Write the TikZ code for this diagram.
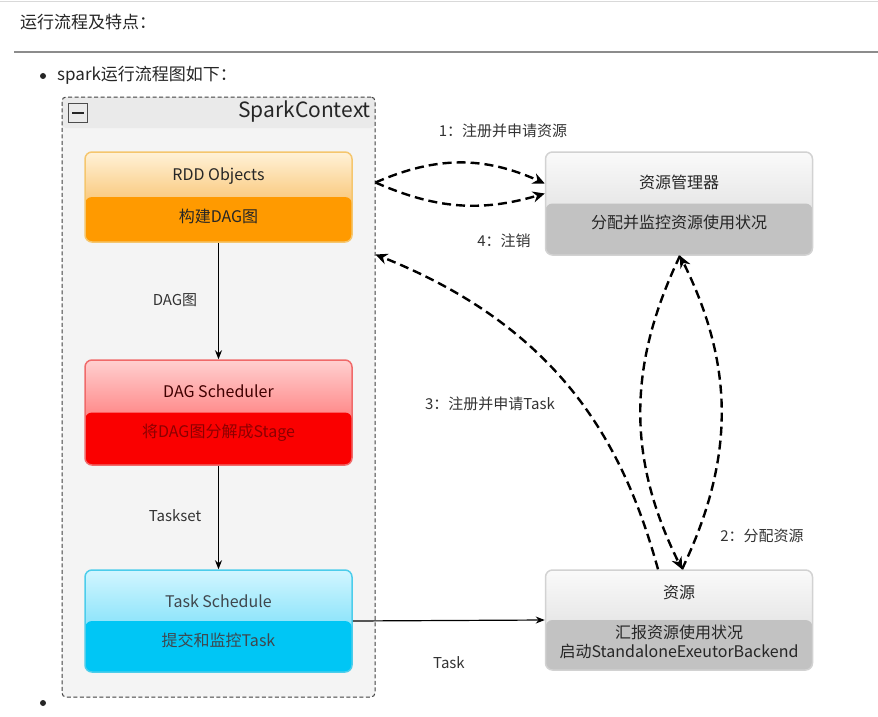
\documentclass[tikz,border=0pt]{standalone}
\usepackage{fontspec}
\setmainfont{Noto Sans CJK SC}
\usetikzlibrary{arrows.meta,calc}

\definecolor{scfill}{HTML}{F4F4F4}
\definecolor{scband}{HTML}{EAEAEA}
\definecolor{rddline}{HTML}{F5C66E}
\definecolor{rddtop}{HTML}{FFF2D8}
\definecolor{rddbot}{HTML}{F6A630}
\definecolor{rddlow}{HTML}{FF9A00}
\definecolor{dagline}{HTML}{F06A6A}
\definecolor{dagtop}{HTML}{FFD0D0}
\definecolor{dagbot}{HTML}{FF4A4A}
\definecolor{daglow}{HTML}{FA0000}
\definecolor{tskline}{HTML}{4CCDEB}
\definecolor{tsktop}{HTML}{D2F6FF}
\definecolor{tskbot}{HTML}{50D4F6}
\definecolor{tsklow}{HTML}{00C6F5}
\definecolor{resline}{HTML}{D2D2D2}
\definecolor{restop}{HTML}{FAFAFA}
\definecolor{resbot}{HTML}{D6D6D6}
\definecolor{reslow}{HTML}{C2C2C2}

\tikzset{
  box/.style={draw, rounded corners=7pt, line width=1.5pt, minimum width=267pt, inner sep=0pt},
  lower/.style={path picture={\fill[#1] (path picture bounding box.west) rectangle (path picture bounding box.south east);}},
  boxtext/.style={font=\fontsize{16}{19}\selectfont, text=black!85, align=center},
  lbl/.style={font=\fontsize{15}{18}\selectfont, text=black!80},
  dasharrow/.style={dash pattern=on 9pt off 5pt, line width=2.4pt, -{Stealth[length=12pt,width=11pt]}},
  flow/.style={line width=1.2pt, -{Stealth[length=9pt,width=7pt]}},
}

\begin{document}
\begin{tikzpicture}[x=1pt, y=-1pt]
  \useasboundingbox (0,0) rectangle (878,717);
  \fill[white] (0,0) rectangle (878,717);

  % page text
  \draw[black!15, line width=1.5pt] (0,1.5) -- (878,1.5);
  \node[anchor=west, inner sep=0pt, font=\fontsize{17}{20}\selectfont, text=black!85] (title) at (20,22) {运行流程及特点：};
  \draw[black!45, line width=1.5pt] (14,52) -- (878,52);
  \fill[black!85] (43,76) circle (3pt);
  \node[anchor=west, inner sep=0pt, font=\fontsize{17}{20}\selectfont, text=black!85] (intro) at (57,75) {spark运行流程图如下：};
  \fill[black!85] (43,703) circle (3pt);

  % SparkContext frame
  \node[draw=black!75, dash pattern=on 4pt off 2.5pt, line width=1pt, rounded corners=4pt, fill=scfill,
        minimum width=313pt, minimum height=600pt,
        path picture={\fill[scband] (path picture bounding box.north west) rectangle ([yshift=-31pt]path picture bounding box.north east);}]
        (sc) at (218.5,397) {};
  \node[draw=black!70, line width=1pt, minimum width=19pt, minimum height=19pt, inner sep=0pt] (minus) at (78,112.5) {};
  \draw[black!85, line width=2pt] ([xshift=-6pt]minus.center) -- ([xshift=6pt]minus.center);
  \node[anchor=east, inner sep=0pt, font=\fontsize{21}{24}\selectfont, text=black!85] (sctitle) at (371,112) {SparkContext};

  % boxes
  \node[box, draw=rddline, top color=rddtop, bottom color=rddbot, lower=rddlow, minimum height=90pt] (rdd) at (218.5,197) {};
  \node[boxtext] (rddt) at ($(rdd.north)!0.27!(rdd.south)$) {RDD Objects};
  \node[boxtext] (rddb) at ($(rdd.north)!0.71!(rdd.south)$) {构建DAG图};

  \node[box, draw=dagline, top color=dagtop, bottom color=dagbot, lower=daglow, minimum height=105pt] (dag) at (218.5,412.5) {};
  \node[boxtext, text=red!25!black] (dagt) at ($(dag.north)!0.30!(dag.south)$) {DAG Scheduler};
  \node[boxtext, text=red!55!black] (dagb) at ($(dag.north)!0.69!(dag.south)$) {将DAG图分解成Stage};

  \node[box, draw=tskline, top color=tsktop, bottom color=tskbot, lower=tsklow, minimum height=102pt] (task) at (218.5,621) {};
  \node[boxtext, text=cyan!20!black] (taskt) at ($(task.north)!0.31!(task.south)$) {Task Schedule};
  \node[boxtext, text=cyan!20!black] (taskb) at ($(task.north)!0.69!(task.south)$) {提交和监控Task};

  \node[box, draw=resline, top color=restop, bottom color=resbot, lower=reslow, minimum height=103pt] (rm) at (679,203.5) {};
  \node[boxtext] (rmt) at ($(rm.north)!0.30!(rm.south)$) {资源管理器};
  \node[boxtext] (rmb) at ($(rm.north)!0.68!(rm.south)$) {分配并监控资源使用状况};

  \node[box, draw=resline, top color=restop, bottom color=resbot, lower=reslow, minimum height=100pt] (res) at (679,620) {};
  \node[boxtext] (rest) at ($(res.north)!0.23!(res.south)$) {资源};
  \node[boxtext, font=\fontsize{16}{18.5}\selectfont] (resb) at ($(res.north)!0.715!(res.south)$) {汇报资源使用状况\\启动StandaloneExeutorBackend};

  % solid flow
  \draw[flow] (rdd.south) -- (dag.north);
  \draw[flow] (dag.south) -- (task.north);
  \draw[flow] (task.east) -- (res.west);
  \node[lbl] (l_dag) at (175,300) {DAG图};
  \node[lbl] (l_tset) at (175,516) {Taskset};
  \node[lbl] (l_task) at (449,663) {Task};

  % dashed messages
  \draw[dasharrow] ([yshift=-86pt]sc.north east) to[bend left=24] ([yshift=20pt]rm.west);
  \draw[dasharrow] ([yshift=-86pt]sc.north east) to[bend right=20] ([yshift=10pt]rm.west);
  \draw[dasharrow] ([xshift=1pt]rm.south) to[bend right=26] ([xshift=3pt]res.north);
  \draw[dasharrow] ([xshift=3pt]res.north) to[bend right=26] ([xshift=1pt]rm.south);
  \draw[dasharrow] ([xshift=-21pt]res.north) .. controls (625,450) and (565,330) .. ([yshift=-158pt]sc.north east);
  \node[lbl] (l_one) at (503,131) {1：注册并申请资源};
  \node[lbl] (l_four) at (504,241) {4：注销};
  \node[lbl] (l_three) at (490,404) {3：注册并申请Task};
  \node[lbl] (l_two) at (762,536) {2：分配资源};
\end{tikzpicture}
\end{document}
